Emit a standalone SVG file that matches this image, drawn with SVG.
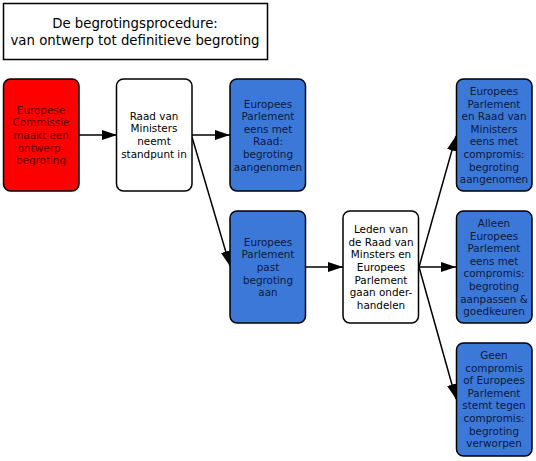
<svg xmlns="http://www.w3.org/2000/svg" width="536" height="461" viewBox="0 0 536 461">
<defs>
<marker id="ah" viewBox="0 0 15 10" refX="15" refY="5" markerWidth="15" markerHeight="10" markerUnits="userSpaceOnUse" orient="auto">
<path d="M0,0 L15,5 L0,10 Z" fill="#000"/>
</marker>
</defs>
<style>
text{font-family:"DejaVu Sans",Verdana,sans-serif;font-size:10.4px;text-anchor:middle}
.title{font-size:13.3px;fill:#000}
.box{stroke:#000;stroke-width:1.5}
.red{fill:#ff0000}
.white{fill:#fff}
.blue{fill:#3c78d8}
.tr{fill:#5a0000}
.tw{fill:#000}
.tb{fill:#0b1a3e}
.c{stroke:#000;stroke-width:1.5;fill:none;marker-end:url(#ah)}
</style>
<rect width="536" height="461" fill="#fff"/>
<g id="title">
<rect x="3.5" y="3.5" width="264" height="56" fill="#fff" stroke="#000" stroke-width="1.5"/>
<text class="title" x="135" y="28">De begrotingsprocedure:</text>
<text class="title" x="135" y="45">van ontwerp tot definitieve begroting</text>
</g>
<g id="connectors">
<line class="c" x1="79" y1="135" x2="117" y2="135"/>
<line class="c" x1="192" y1="135" x2="230" y2="135"/>
<line class="c" x1="192" y1="137" x2="230" y2="266"/>
<line class="c" x1="306" y1="267" x2="343" y2="267"/>
<line class="c" x1="419" y1="267" x2="456" y2="136"/>
<line class="c" x1="419" y1="267" x2="456" y2="267"/>
<line class="c" x1="419" y1="267" x2="456" y2="399"/>
</g>
<g id="n1">
<rect class="box red" x="3.5" y="79" width="75.5" height="112" rx="7"/>
<text class="tr" x="41" y="113.8">Europese</text>
<text class="tr" x="41" y="126.4">Commissie</text>
<text class="tr" x="41" y="139">maakt een</text>
<text class="tr" x="41" y="151.6">ontwerp-</text>
<text class="tr" x="41" y="164.2">begroting</text>
</g>
<g id="n2">
<rect class="box white" x="116.5" y="79" width="75.5" height="112" rx="7"/>
<text class="tw" x="154" y="119.5">Raad van</text>
<text class="tw" x="154" y="132.3">Ministers</text>
<text class="tw" x="154" y="145.1">neemt</text>
<text class="tw" x="154" y="157.9">standpunt in</text>
</g>
<g id="n3">
<rect class="box blue" x="230" y="79" width="75.5" height="112" rx="7"/>
<text class="tb" x="268" y="107.5">Europees</text>
<text class="tb" x="268" y="120.1">Parlement</text>
<text class="tb" x="268" y="132.7">eens met</text>
<text class="tb" x="268" y="145.3">Raad:</text>
<text class="tb" x="268" y="157.9">begroting</text>
<text class="tb" x="268" y="170.5">aangenomen</text>
</g>
<g id="n4">
<rect class="box blue" x="230" y="211" width="75.5" height="112" rx="7"/>
<text class="tb" x="268" y="245.8">Europees</text>
<text class="tb" x="268" y="258.4">Parlement</text>
<text class="tb" x="268" y="271">past</text>
<text class="tb" x="268" y="283.6">begroting</text>
<text class="tb" x="268" y="296.2">aan</text>
</g>
<g id="n5">
<rect class="box white" x="343" y="211" width="75.5" height="112" rx="7"/>
<text class="tw" x="381" y="233.2">Leden van</text>
<text class="tw" x="381" y="245.8">de Raad van</text>
<text class="tw" x="381" y="258.4">Minsters en</text>
<text class="tw" x="381" y="271">Europees</text>
<text class="tw" x="381" y="283.6">Parlement</text>
<text class="tw" x="381" y="296.2">gaan onder-</text>
<text class="tw" x="381" y="308.8">handelen</text>
</g>
<g id="n6">
<rect class="box blue" x="456.5" y="79" width="75.5" height="112" rx="7"/>
<text class="tb" x="494" y="94.9">Europees</text>
<text class="tb" x="494" y="107.5">Parlement</text>
<text class="tb" x="494" y="120.1">en Raad van</text>
<text class="tb" x="494" y="132.7">Ministers</text>
<text class="tb" x="494" y="145.3">eens met</text>
<text class="tb" x="494" y="157.9">compromis:</text>
<text class="tb" x="494" y="170.5">begroting</text>
<text class="tb" x="494" y="183.1">aangenomen</text>
</g>
<g id="n7">
<rect class="box blue" x="456.5" y="211" width="75.5" height="112" rx="7"/>
<text class="tb" x="494" y="226.9">Alleen</text>
<text class="tb" x="494" y="239.5">Europees</text>
<text class="tb" x="494" y="252.1">Parlement</text>
<text class="tb" x="494" y="264.7">eens met</text>
<text class="tb" x="494" y="277.3">compromis:</text>
<text class="tb" x="494" y="289.9">begroting</text>
<text class="tb" x="494" y="302.5">aanpassen &amp;</text>
<text class="tb" x="494" y="315.1">goedkeuren</text>
</g>
<g id="n8">
<rect class="box blue" x="456.5" y="343" width="75.5" height="113" rx="7"/>
<text class="tb" x="494" y="358.9">Geen</text>
<text class="tb" x="494" y="371.5">compromis</text>
<text class="tb" x="494" y="384.1">of Europees</text>
<text class="tb" x="494" y="396.7">Parlement</text>
<text class="tb" x="494" y="409.3">stemt tegen</text>
<text class="tb" x="494" y="421.9">compromis:</text>
<text class="tb" x="494" y="434.5">begroting</text>
<text class="tb" x="494" y="447.1">verworpen</text>
</g>
</svg>
